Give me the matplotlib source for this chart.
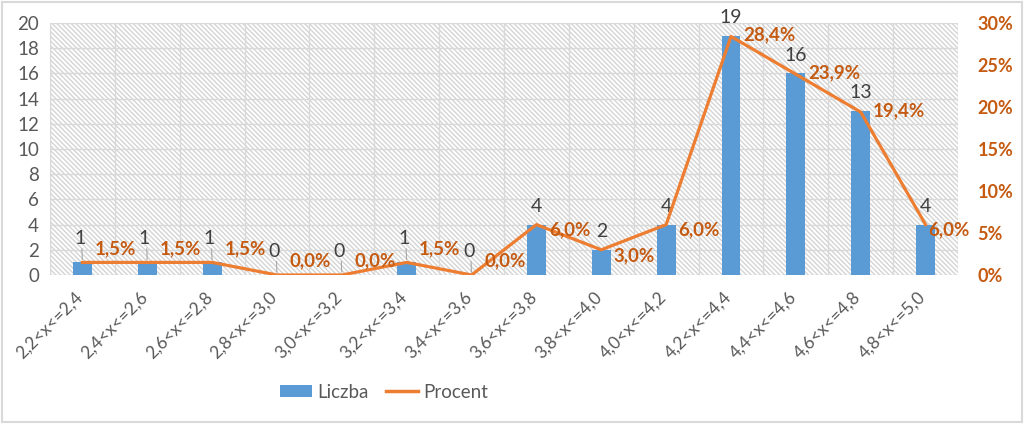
import matplotlib
matplotlib.use("Agg")
import matplotlib.pyplot as plt
import matplotlib.transforms as mtransforms
from matplotlib.patches import Rectangle, Patch
from matplotlib.lines import Line2D
from matplotlib.ticker import FuncFormatter

plt.rcParams['font.family'] = ['Lato', 'DejaVu Sans']

categories = ["2,2<x<=2,4", "2,4<x<=2,6", "2,6<x<=2,8", "2,8<x<=3,0", "3,0<x<=3,2",
              "3,2<x<=3,4", "3,4<x<=3,6", "3,6<x<=3,8", "3,8<x<=4,0", "4,0<x<=4,2",
              "4,2<x<=4,4", "4,4<x<=4,6", "4,6<x<=4,8", "4,8<x<=5,0"]
liczba = [1, 1, 1, 0, 0, 1, 0, 4, 2, 4, 19, 16, 13, 4]
procent = [1.5, 1.5, 1.5, 0.0, 0.0, 1.5, 0.0, 6.0, 3.0, 6.0, 28.4, 23.9, 19.4, 6.0]
left_ticks = list(range(0, 21, 2))
right_ticks = [0, 5, 10, 15, 20, 25, 30]

BLUE = '#5B9BD5'
ORANGE = '#ED7D31'
DARK_OR = '#C55A11'
GRAY_T = '#595959'
GRID = '#D9D9D9'

fig = plt.figure(figsize=(10.24, 4.24), dpi=100)
fig.patch.set_facecolor('white')
ax = fig.add_axes([50/1024, 1-275/424, 908/1024, 252/424])
ax2 = ax.twinx()

n = len(categories)
x = list(range(n))

# hatched background
ax.patch.set_facecolor('white')
ax.patch.set_hatch('\\\\\\\\\\\\\\')
ax.patch.set_edgecolor('#D4D4D4')
ax.patch.set_linewidth(0)

ax.set_xlim(-0.5, n - 0.5)
ax.set_ylim(0, 20)
ax2.set_ylim(0, 30)

# gridlines
for yv in left_ticks:
    ax.axhline(yv, color=GRID, lw=1, zorder=0.5)
for i in range(n + 1):
    ax.axvline(i - 0.5, color=GRID, lw=1, zorder=0.5)

ax.bar(x, liczba, width=0.29, color=BLUE, zorder=2)
ax2.plot(x, procent, color=ORANGE, lw=2.3, zorder=3, solid_joinstyle='round')

for a in (ax, ax2):
    for s in a.spines.values():
        s.set_visible(False)

ax.set_yticks(left_ticks)
ax.tick_params(axis='y', length=0, labelsize=13.5, labelcolor=GRAY_T, pad=8)
ax2.set_yticks(right_ticks)
ax2.yaxis.set_major_formatter(FuncFormatter(lambda v, p: f"{int(v)}%"))
ax2.tick_params(axis='y', length=0, labelsize=13, labelcolor=DARK_OR, pad=14)
for t in ax2.get_yticklabels():
    t.set_fontweight('bold')

ax.set_xticks(x)
ax.set_xticklabels(categories, rotation=45, ha='right', rotation_mode='anchor',
                   fontsize=12.5, color=GRAY_T)
ax.tick_params(axis='x', length=0, pad=10)
off = mtransforms.ScaledTranslation(-8/100, 0, fig.dpi_scale_trans)
for t in ax.get_xticklabels():
    t.set_transform(t.get_transform() + off)

# count labels
for i, v in enumerate(liczba):
    if v <= 1:
        ax.annotate(str(v), xy=(i, v), xytext=(-2, 11), textcoords='offset points',
                    ha='center', va='bottom', fontsize=14, color='#404040', zorder=5)
        ax.annotate('', xy=(i, v), xytext=(i - 0.01, v + 1.3),
                    arrowprops=dict(arrowstyle='-', color='#A6A6A6', lw=0.8))
    else:
        ax.annotate(str(v), xy=(i, v), xytext=(0, 7), textcoords='offset points',
                    ha='center', va='bottom', fontsize=14, color='#404040', zorder=5)

# percent labels
for i, p in enumerate(procent):
    dy = 10 if p < 2 else (-4 if p < 7 else 1)
    dx = 2 if i == n - 1 else 9
    lab = f"{p:.1f}%".replace('.', ',')
    ax2.annotate(lab, xy=(i, p), xytext=(dx, dy), textcoords='offset points',
                 ha='left', va='center', fontsize=13.5, fontweight='bold',
                 color=DARK_OR, zorder=6)

handles = [Patch(facecolor=BLUE, edgecolor='none'),
           Line2D([0], [0], color=ORANGE, lw=2.5)]
fig.legend(handles, ['Liczba', 'Procent'], loc='center', bbox_to_anchor=(384/1024, 1-392/424),
           ncol=2, frameon=False, fontsize=13.5, handlelength=1.7, handleheight=0.6,
           columnspacing=0.9, handletextpad=0.3, labelcolor=GRAY_T)

fig.add_artist(Rectangle((0.002, 0.004), 0.996, 0.992, transform=fig.transFigure,
                         fill=False, edgecolor='#D9D9D9', lw=1.5))

fig.savefig('out.png', dpi=100)
